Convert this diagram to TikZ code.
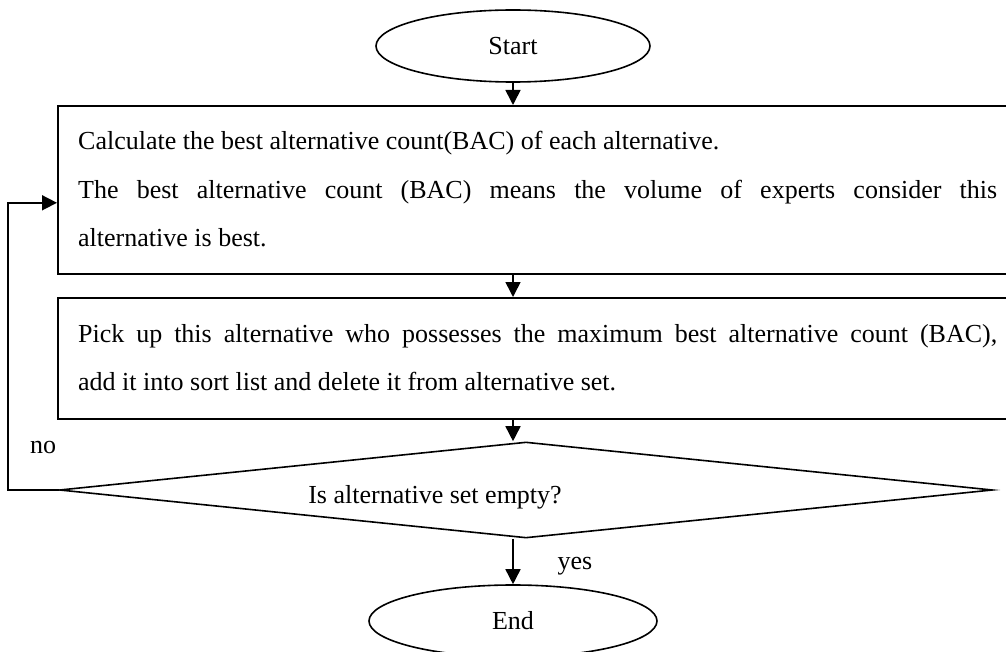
\documentclass[tikz,border=0pt]{standalone}
\usepackage{fontspec}
\setmainfont{Liberation Serif}
\usetikzlibrary{shapes.geometric,arrows.meta}
\begin{document}
\begin{tikzpicture}[x=1pt,y=-1pt,
  every node/.style={font=\fontsize{26}{31}\selectfont},
  line/.style={line width=1.6pt},
  arr/.style={line width=1.6pt,-{Triangle[length=15pt,width=15pt]}},
  terminal/.style={ellipse,draw,line width=1.6pt,inner sep=0pt},
  procbox/.style={rectangle,draw,line width=1.6pt,anchor=north west,minimum width=980pt,inner sep=0pt},
  decision/.style={diamond,draw,line width=1.6pt,inner sep=0pt,aspect=9.7},
  txt/.style={anchor=base west,inner sep=0pt}
]
\useasboundingbox (0,0) rectangle (1006,652);
\clip (0,0) rectangle (1006,652);
\node[terminal,minimum width=274pt,minimum height=72pt] (start) at (513,46) {Start};
\node[procbox,minimum height=168pt] (box1) at (57,105) {};
\node[procbox,minimum height=121pt] (box2) at (57,297) {};
\node[decision,minimum width=933pt,minimum height=96pt] (dia) at (526,490) {};
\node[terminal,minimum width=288pt,minimum height=72pt] (end) at (513,621) {End};

\node[txt] (t1) at (78,150) {Calculate the best alternative count(BAC) of each alternative.};
\node[txt] (t2) at (78,199) {\makebox[919pt][s]{The best alternative count (BAC) means the volume of experts consider this}};
\node[txt] (t3) at (78,247) {alternative is best.};
\node[txt] (t4) at (78,342) {\makebox[919pt][s]{Pick up this alternative who possesses the maximum best alternative count (BAC),}};
\node[txt] (t5) at (78,390) {add it into sort list and delete it from alternative set.};
\node[anchor=base,inner sep=0pt] (q) at (435,503) {Is alternative set empty?};
\node[inner sep=0pt] (no) at (43,447) {no};
\node[inner sep=0pt] (yes) at (575,566) {yes};

\draw[arr] (start.south) -- (start.south |- box1.north);
\draw[arr] (start |- box1.south) -- (start |- box2.north);
\draw[arr] (start |- box2.south) -- (start |- dia.north);
\draw[arr] (start |- dia.south) -- (end.north);
\draw[arr] (dia.west) -- ++(-51,0) |- ([yshift=-13pt]box1.west);
\end{tikzpicture}
\end{document}
